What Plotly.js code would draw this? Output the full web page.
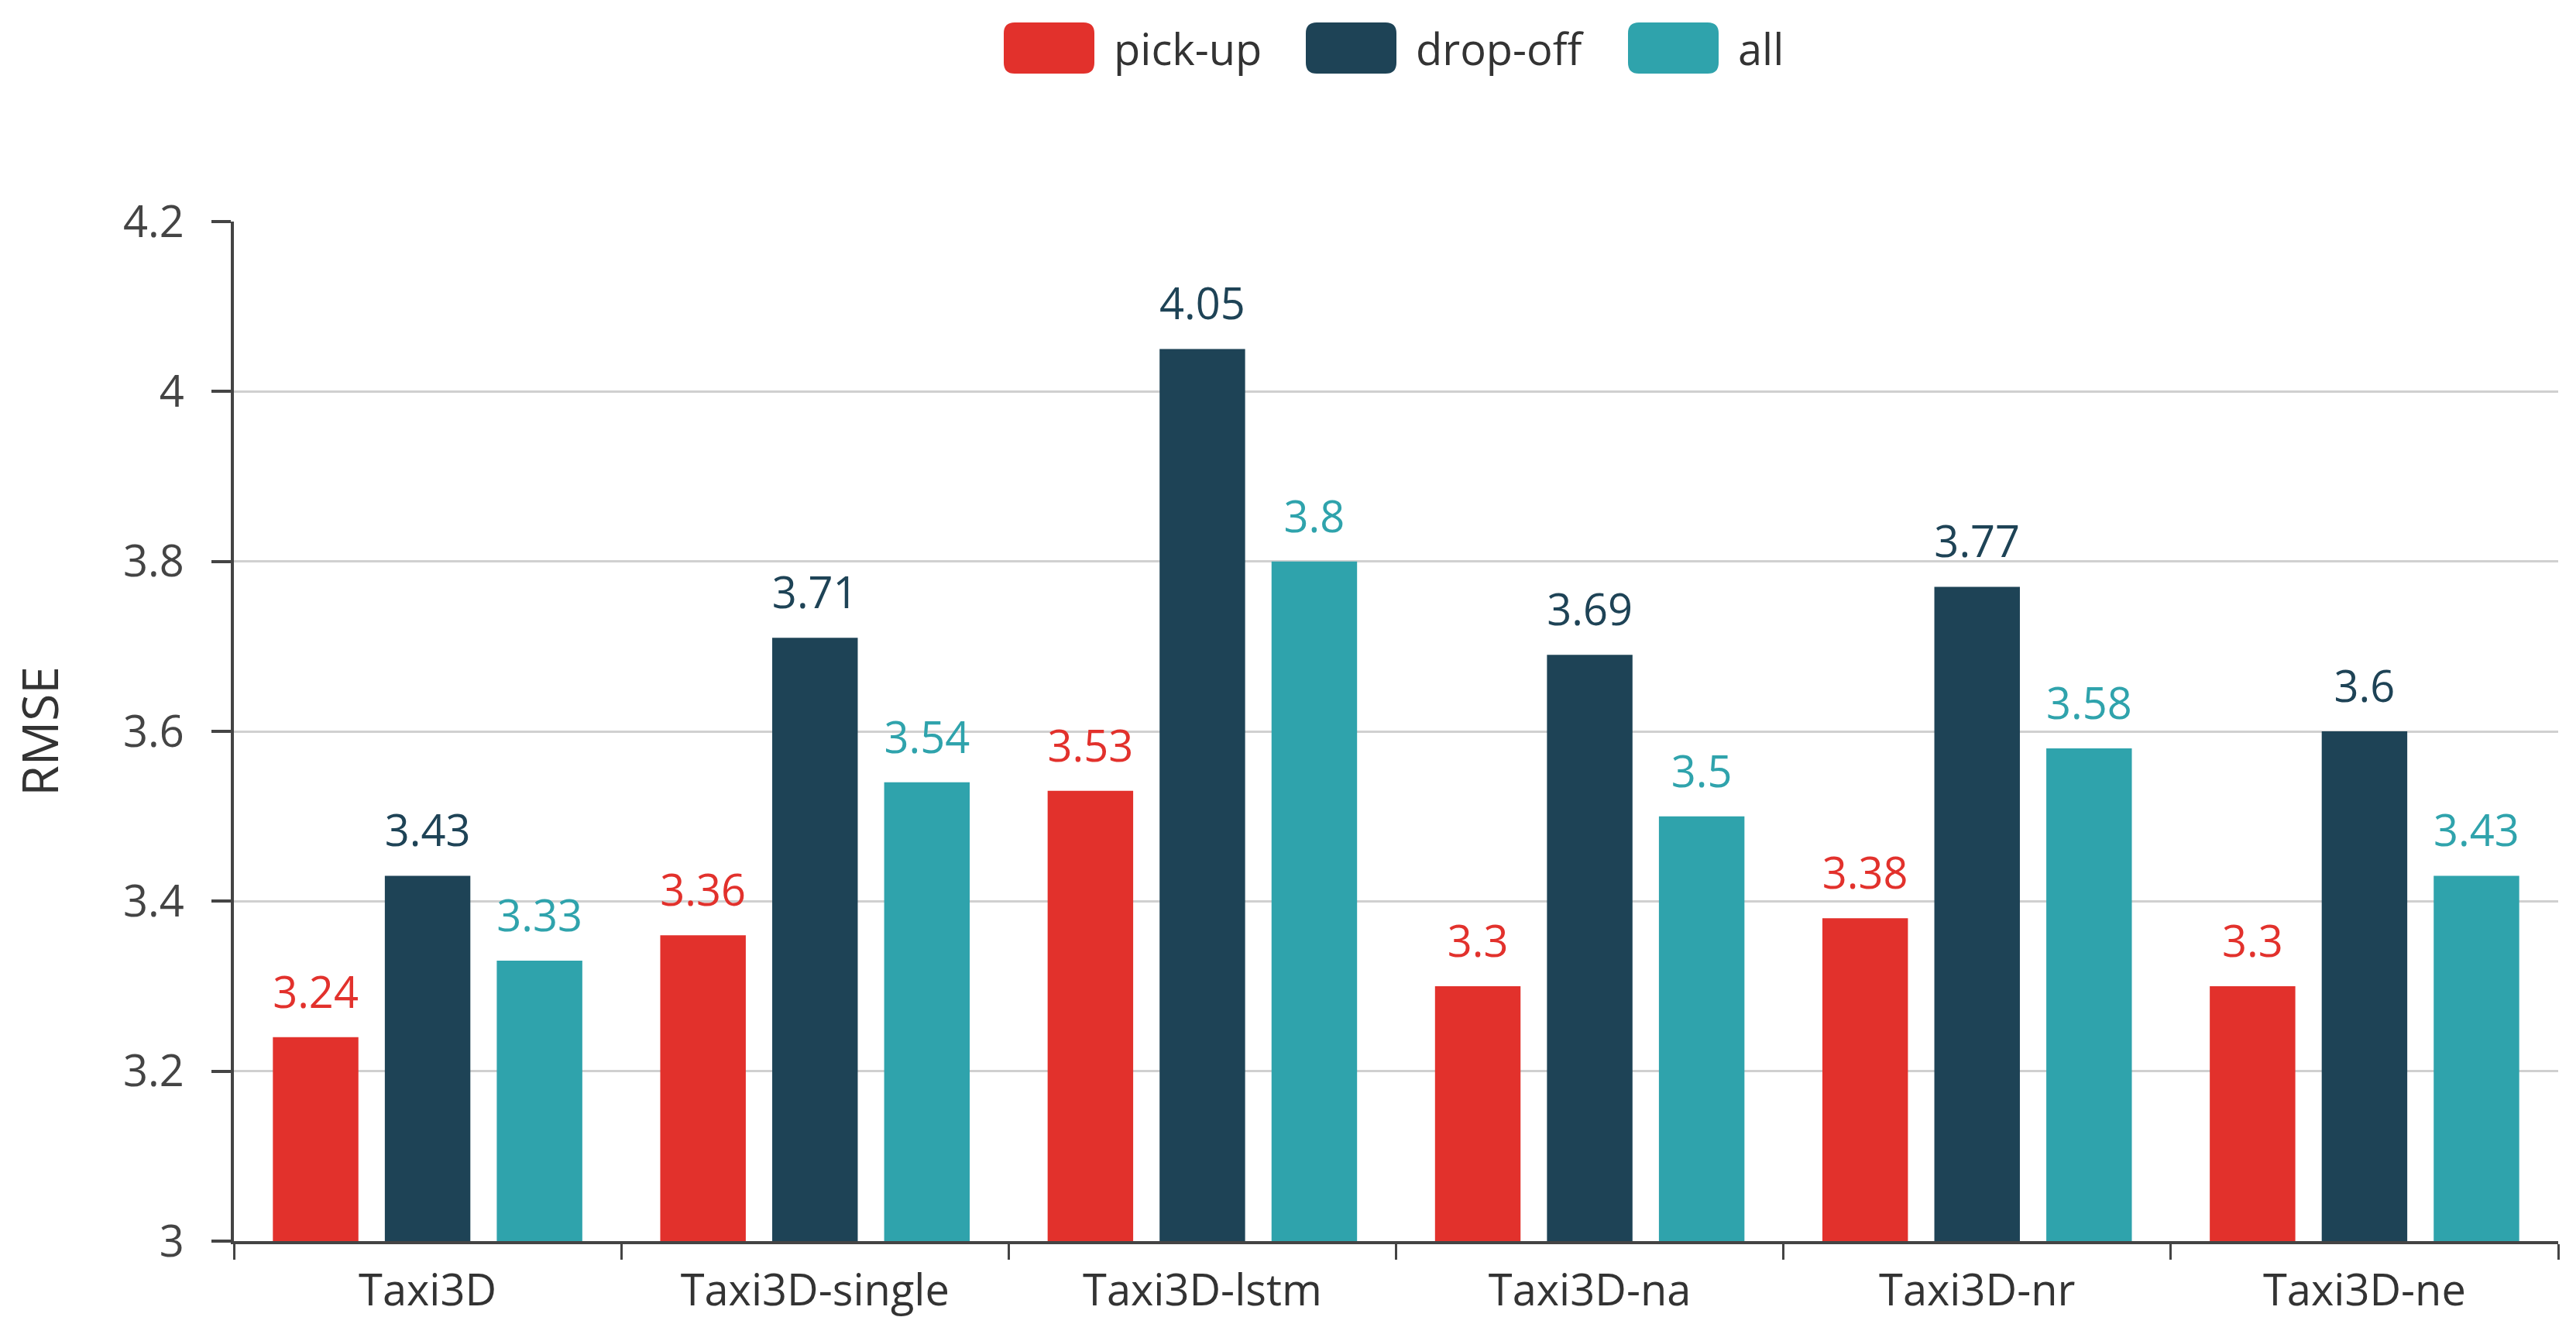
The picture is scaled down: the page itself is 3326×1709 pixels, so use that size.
<!DOCTYPE html>
<html>
<head>
<meta charset="utf-8">
<script src="https://cdn.plot.ly/plotly-3.0.1.min.js"></script>
<style>
  html, body { margin: 0; padding: 0; background: #fff; }
  #chart { width: 3326px; height: 1709px; }
</style>
</head>
<body>
<div id="chart"></div>
<script>
// Chart data
const categories = ['Taxi3D', 'Taxi3D-single', 'Taxi3D-lstm', 'Taxi3D-na', 'Taxi3D-nr', 'Taxi3D-ne'];
const seriesNames = ['pick-up', 'drop-off', 'all'];
const pickUp = [3.24, 3.36, 3.53, 3.3, 3.38, 3.3];
const dropOff = [3.43, 3.71, 4.05, 3.69, 3.77, 3.6];
const allTrips = [3.33, 3.54, 3.8, 3.5, 3.58, 3.43];
const yTicks = [3, 3.2, 3.4, 3.6, 3.8, 4, 4.2];

const seriesValues = [pickUp, dropOff, allTrips];
const seriesColors = ['#e2312c', '#1e4356', '#2fa3ac'];

// Page / plot geometry
const W = 3326, H = 1709;
const margin = { l: 302, r: 23, t: 286, b: 107 };
const plotW = W - margin.l - margin.r;
const plotH = H - margin.t - margin.b;
const fontFamily = '"Open Sans", "Noto Sans", sans-serif';
const BAR_GAP = 0.133;

// Bars
var bars = seriesValues.map((vals, i) => ({
  type: 'bar',
  x: categories,
  y: vals,
  name: seriesNames[i],
  marker: { color: seriesColors[i] },
  showlegend: false,
}));

// Value labels above bars (grouped scatter text so they sit on each bar)
var labels = seriesValues.map((vals, i) => ({
  type: 'scatter',
  mode: 'markers+text',
  x: categories,
  y: vals,
  text: vals.map(String),
  textposition: 'top center',
  textfont: { family: fontFamily, size: 56, color: seriesColors[i] },
  marker: { size: 37, color: 'rgba(0,0,0,0)' },
  cliponaxis: false,
  hoverinfo: 'skip',
  showlegend: false,
}));

// Custom legend: big rounded swatches + text, placed in paper coords
const legendLeft = [1296, 1686, 2102]; // swatch left edges, px
const legendMidY = 62;
const swatchW = 117, swatchH = 66, swatchR = 14, textGap = 23;

function px2x(px) { return (px - margin.l) / plotW; }
function px2y(py) { return (H - margin.b - py) / plotH; }

function roundedRect(x0, y0, x1, y1, r) {
  // x0,y0 top-left; x1,y1 bottom-right in px
  const a = px2x(x0), b = px2x(x1), c = px2y(y0), d = px2y(y1);
  const rx = r / plotW, ry = r / plotH;
  return 'M' + (a + rx) + ',' + c +
    ' H' + (b - rx) + ' Q' + b + ',' + c + ' ' + b + ',' + (c - ry) +
    ' V' + (d + ry) + ' Q' + b + ',' + d + ' ' + (b - rx) + ',' + d +
    ' H' + (a + rx) + ' Q' + a + ',' + d + ' ' + a + ',' + (d + ry) +
    ' V' + (c - ry) + ' Q' + a + ',' + c + ' ' + (a + rx) + ',' + c + ' Z';
}

var legendShapes = seriesNames.map((name, i) => ({
  type: 'path',
  xref: 'paper',
  yref: 'paper',
  path: roundedRect(legendLeft[i], legendMidY - swatchH / 2,
                    legendLeft[i] + swatchW, legendMidY + swatchH / 2, swatchR),
  fillcolor: seriesColors[i],
  line: { width: 0 },
}));

var legendText = seriesNames.map((name, i) => ({
  xref: 'paper',
  yref: 'paper',
  x: px2x(legendLeft[i] + swatchW + textGap),
  y: px2y(legendMidY),
  xanchor: 'left',
  yanchor: 'middle',
  text: name,
  showarrow: false,
  font: { family: fontFamily, size: 56, color: '#333' },
}));

var layout = {
  width: W,
  height: H,
  margin: margin,
  paper_bgcolor: '#fff',
  plot_bgcolor: '#fff',
  font: { family: fontFamily, size: 56, color: '#333' },
  barmode: 'group',
  bargap: BAR_GAP,
  bargroupgap: 0.236,
  scattermode: 'group',
  scattergap: BAR_GAP,
  showlegend: false,
  xaxis: {
    type: 'category',
    showline: true,
    linecolor: '#444',
    linewidth: 4,
    ticks: 'outside',
    tickson: 'boundaries',
    ticklen: 20,
    tickwidth: 3,
    tickcolor: '#444',
    showgrid: false,
    tickfont: { family: fontFamily, size: 56, color: '#333' },
    ticklabelstandoff: 12,
  },
  yaxis: {
    range: [3, 4.2],
    tickvals: yTicks,
    showline: true,
    linecolor: '#444',
    linewidth: 4,
    ticks: 'outside',
    ticklen: 25,
    tickwidth: 4,
    tickcolor: '#444',
    showgrid: true,
    gridcolor: '#d0d0d0',
    gridwidth: 3,
    zeroline: false,
    tickfont: { family: fontFamily, size: 56, color: '#444' },
    ticklabelstandoff: 24,
    title: {
      text: 'RMSE',
      font: { family: fontFamily, size: 64, color: '#333' },
      standoff: 64,
    },
  },
  shapes: legendShapes,
  annotations: legendText,
};

var config = { responsive: false, displayModeBar: false, staticPlot: true };

Plotly.newPlot('chart', bars.concat(labels), layout, config);
</script>
</body>
</html>
